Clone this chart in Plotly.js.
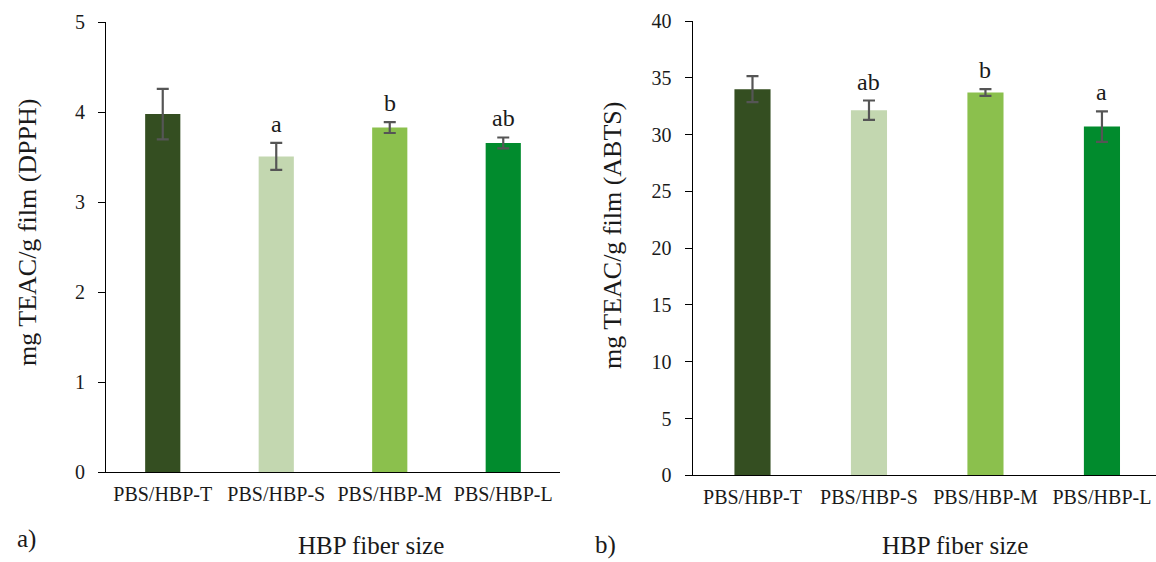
<!DOCTYPE html>
<html>
<head>
<meta charset="utf-8">
<script src="https://cdn.plot.ly/plotly-3.0.1.min.js"></script>
<style>
  html, body { margin: 0; padding: 0; background: #fff; }
  #chart { width: 1156px; height: 562px; }
</style>
</head>
<body>
<div id="chart"></div>
<script>
// ---- data ----
const categories = ['PBS/HBP-T', 'PBS/HBP-S', 'PBS/HBP-M', 'PBS/HBP-L'];
const dpphValues = [3.98, 3.51, 3.83, 3.66];
const dpphErrors = [0.28, 0.15, 0.06, 0.06];
const dpphLetters = ['', 'a', 'b', 'ab'];
const abtsValues = [34.0, 32.15, 33.7, 30.7];
const abtsErrors = [1.15, 0.85, 0.3, 1.35];
const abtsLetters = ['', 'ab', 'b', 'a'];
const barColors = ['#344E21', '#C3D7B0', '#8BC04D', '#018B2D'];
const yTitleDPPH = 'mg TEAC/g film (DPPH)';
const yTitleABTS = 'mg TEAC/g film (ABTS)';
const xTitle = 'HBP fiber size';
const panelLabels = ['a)', 'b)'];

// ---- styling ----
const FONT = "'Liberation Serif', 'Times New Roman', serif";
const TXT = '#1a1a1a';
const W = 1156, H = 562;
const px = v => v / W;
const py = v => (H - v) / H;

function barTrace(vals, errs, xa, ya) {
  return {
    type: 'bar', x: categories, y: vals, xaxis: xa, yaxis: ya,
    width: 0.31,
    marker: { color: barColors, line: { width: 0 } },
    error_y: { type: 'data', array: errs, visible: true, color: '#555555', thickness: 2.2, width: 6 },
    hoverinfo: 'skip', showlegend: false
  };
}

function letterAnns(vals, errs, letters, xr, yr) {
  return categories.map((c, i) => ({
    x: c, y: vals[i] + errs[i], xref: xr, yref: yr,
    text: letters[i], showarrow: false, yanchor: 'bottom', yshift: 4,
    font: { family: FONT, size: 24, color: TXT }
  })).filter(a => a.text);
}

const xCommon = {
  type: 'category', showline: true, linecolor: '#000', linewidth: 1,
  ticks: '', showgrid: false, zeroline: false, fixedrange: true,
  ticklabelstandoff: 4,
  tickfont: { family: FONT, size: 20, color: TXT }
};
const yCommon = {
  showline: true, linecolor: '#000', linewidth: 1, ticks: 'outside', ticklen: 7,
  tickcolor: '#000', tickwidth: 1, showgrid: false, zeroline: false,
  ticklabelstandoff: 9,
  tickfont: { family: FONT, size: 20, color: TXT }
};

const data = [
  barTrace(dpphValues, dpphErrors, 'x', 'y'),
  barTrace(abtsValues, abtsErrors, 'x2', 'y2')
];

const layout = {
  width: W, height: H,
  margin: { l: 0, r: 0, t: 0, b: 0 },
  paper_bgcolor: '#fff', plot_bgcolor: '#fff',
  xaxis: Object.assign({}, xCommon, { domain: [px(106), px(560)], range: [-0.5, 3.5], anchor: 'y' }),
  yaxis: Object.assign({}, yCommon, { domain: [py(472.3), py(22.3)], range: [0, 5], dtick: 1, anchor: 'x' }),
  xaxis2: Object.assign({}, xCommon, { domain: [px(692.5), 1], range: [-0.515, 3.464], anchor: 'y2' }),
  yaxis2: Object.assign({}, yCommon, { domain: [py(475.3), py(21)], range: [0, 40], dtick: 5, anchor: 'x2' }),
  annotations: [
    ...letterAnns(dpphValues, dpphErrors, dpphLetters, 'x', 'y'),
    ...letterAnns(abtsValues, abtsErrors, abtsLetters, 'x2', 'y2'),
    { xref: 'paper', yref: 'paper', x: px(27), y: py(233), text: yTitleDPPH, textangle: -90,
      showarrow: false, xanchor: 'center', yanchor: 'middle', font: { family: FONT, size: 26, color: TXT } },
    { xref: 'paper', yref: 'paper', x: px(612), y: py(236), text: yTitleABTS, textangle: -90,
      showarrow: false, xanchor: 'center', yanchor: 'middle', font: { family: FONT, size: 26, color: TXT } },
    { xref: 'paper', yref: 'paper', x: px(371), y: py(545), text: xTitle,
      showarrow: false, xanchor: 'center', yanchor: 'middle', font: { family: FONT, size: 25, color: TXT } },
    { xref: 'paper', yref: 'paper', x: px(955), y: py(545), text: xTitle,
      showarrow: false, xanchor: 'center', yanchor: 'middle', font: { family: FONT, size: 25, color: TXT } },
    { xref: 'paper', yref: 'paper', x: px(26), y: py(539), text: panelLabels[0],
      showarrow: false, xanchor: 'center', yanchor: 'middle', font: { family: FONT, size: 25, color: TXT } },
    { xref: 'paper', yref: 'paper', x: px(605), y: py(545), text: panelLabels[1],
      showarrow: false, xanchor: 'center', yanchor: 'middle', font: { family: FONT, size: 25, color: TXT } }
  ]
};

Plotly.newPlot('chart', data, layout, { displayModeBar: false, staticPlot: true });
</script>
</body>
</html>
